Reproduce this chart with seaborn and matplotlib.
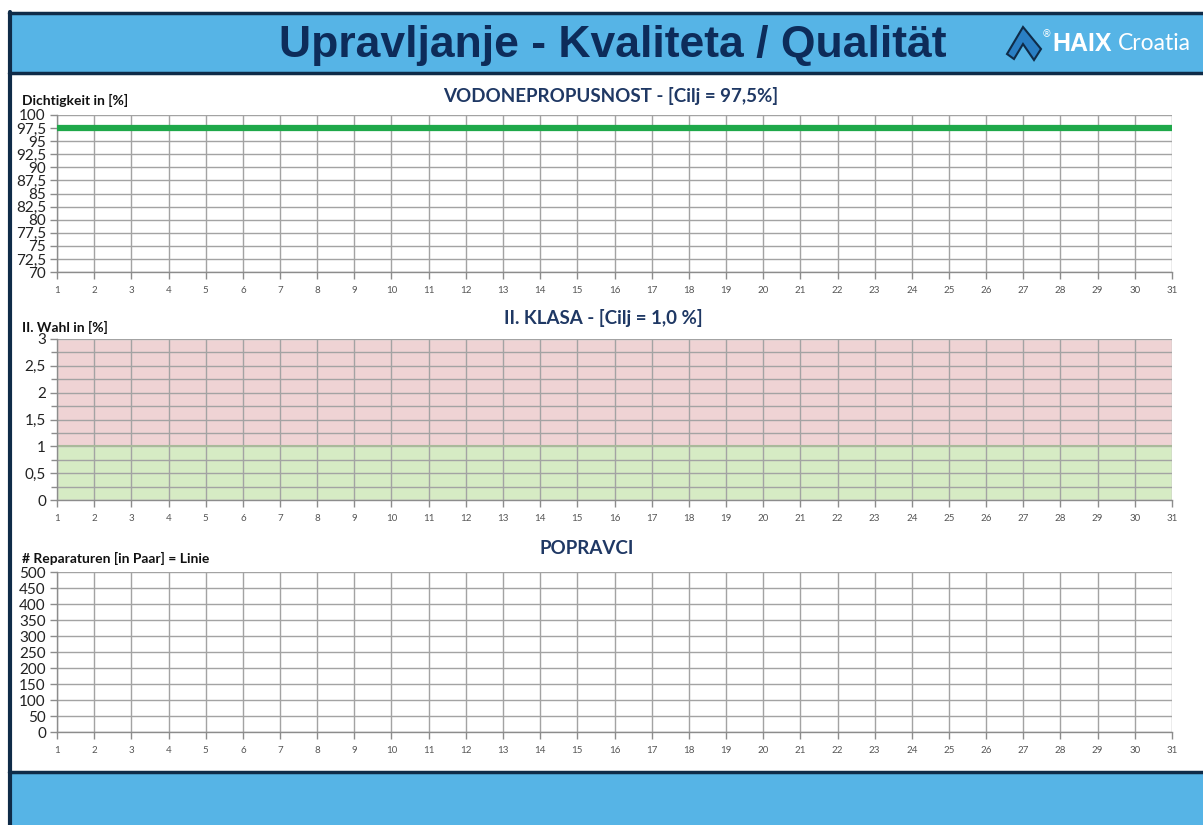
import matplotlib.pyplot as plt
import seaborn as sns
from matplotlib.patches import Rectangle, Polygon

# days of the month on the x axis
days = [1, 2, 3, 4, 5, 6, 7, 8, 9, 10, 11, 12, 13, 14, 15, 16,
        17, 18, 19, 20, 21, 22, 23, 24, 25, 26, 27, 28, 29, 30, 31]

# panel 1: water tightness, target 97.5 %
density_target = 97.5
density_ticks = [70, 72.5, 75, 77.5, 80, 82.5, 85, 87.5, 90, 92.5, 95, 97.5, 100]
density_labels = ['70', '72,5', '75', '77,5', '80', '82,5', '85', '87,5',
                  '90', '92,5', '95', '97,5', '100']

# panel 2: second class, target 1.0 %
class2_target = 1.0
class2_max = 3
class2_ticks = [0, 0.5, 1, 1.5, 2, 2.5, 3]
class2_labels = ['0', '0,5', '1', '1,5', '2', '2,5', '3']
class2_minor = [0.25, 0.75, 1.25, 1.75, 2.25, 2.75]

# panel 3: repairs (no data entered yet)
repair_ticks = [0, 50, 100, 150, 200, 250, 300, 350, 400, 450, 500]
repair_labels = [str(v) for v in repair_ticks]

HEADER_BLUE = '#56b4e6'
FRAME = '#0f2b48'
NAVY = '#1f3864'
GRID = '#a3a3a3'

sns.set_style('white')
plt.rcParams['font.family'] = ['Lato', 'DejaVu Sans']

W, H = 1203, 825
fig = plt.figure(figsize=(W / 100, H / 100), dpi=100)


def fx(px):
    return px / W


def fy(py):
    return 1 - py / H


# header, footer and frame
fig.patches.append(Rectangle((fx(9), fy(73)), 1, fy(13) - fy(73),
                             transform=fig.transFigure, facecolor=HEADER_BLUE,
                             edgecolor='none', zorder=0))
fig.patches.append(Rectangle((fx(9), 0), 1, fy(772),
                             transform=fig.transFigure, facecolor=HEADER_BLUE,
                             edgecolor='none', zorder=0))
for y in (13, 73, 772):
    fig.lines.append(plt.Line2D([fx(9), 1], [fy(y), fy(y)], transform=fig.transFigure,
                                color=FRAME, lw=2.5))
fig.lines.append(plt.Line2D([fx(10), fx(10)], [0, fy(12)], transform=fig.transFigure,
                            color=FRAME, lw=3))

fig.text(fx(613), fy(45), 'Upravljanje - Kvaliteta / Qualität', ha='center', va='center',
         fontsize=32, fontweight='bold', color='#0d2c5a',
         family=['Liberation Sans', 'DejaVu Sans'])

# logo
logo = [(1007, 54), (1023, 27), (1041, 49), (1034, 60), (1023, 44), (1014, 59)]
fig.patches.append(Polygon([(fx(x), fy(y)) for x, y in logo], closed=True,
                           transform=fig.transFigure, facecolor='#2a7fc4',
                           edgecolor='#0f2b48', lw=1.5))
fig.text(fx(1042), fy(34), '®', fontsize=7, color='white', ha='left', va='center',
         family=['DejaVu Sans'])
fig.text(fx(1052), fy(44), 'HAIX', fontsize=18, fontweight='bold', color='white',
         ha='left', va='center', family=['Liberation Sans', 'DejaVu Sans'])
fig.text(fx(1118), fy(44), 'Croatia', fontsize=16.5, color='white',
         ha='left', va='center', family=['Lato', 'DejaVu Sans'])


def setup_panel(top, bottom, ymin, ymax, ticks, labels, minor=None):
    ax = fig.add_axes([fx(57), fy(bottom), fx(1172) - fx(57), fy(top) - fy(bottom)])
    ax.set_xlim(days[0], days[-1])
    ax.set_ylim(ymin, ymax)
    ax.set_xticks(days)
    ax.set_xticklabels([str(d) for d in days])
    ax.set_yticks(ticks)
    ax.set_yticklabels(labels)
    if minor:
        ax.set_yticks(minor, minor=True)
    ax.grid(True, which='both', color=GRID, lw=1)
    ax.set_axisbelow(True)
    for side in ('top', 'right'):
        ax.spines[side].set_visible(False)
    for side in ('left', 'bottom'):
        ax.spines[side].set_color('#8c8c8c')
        ax.spines[side].set_linewidth(1)
    ax.tick_params(axis='x', length=5, width=1, color='#8c8c8c', labelsize=7,
                   labelcolor='#555555', pad=5, bottom=True)
    ax.tick_params(axis='y', which='major', length=5, width=1, color='#8c8c8c',
                   labelsize=11, labelcolor='#222222', pad=3, left=True)
    ax.tick_params(axis='y', which='minor', length=4, width=1, color='#8c8c8c', left=True)
    ax.set_xlabel('')
    ax.set_ylabel('')
    return ax


# panel 1
ax1 = setup_panel(115, 272, density_ticks[0], density_ticks[-1], density_ticks, density_labels)
sns.lineplot(x=[days[0], days[-1]], y=[density_target, density_target], ax=ax1,
             color='#1fa84a', lw=4.5, zorder=5)
ax1.set_ylabel('')
fig.text(fx(611), fy(96), 'VODONEPROPUSNOST - [Cilj = 97,5%]', ha='center', va='center',
         fontsize=13.5, fontweight='bold', color=NAVY)
fig.text(fx(22), fy(100), 'Dichtigkeit in [%]', ha='left', va='center',
         fontsize=10, fontweight='bold', color='#111111')

# panel 2
ax2 = setup_panel(339, 500, 0, class2_max, class2_ticks, class2_labels, class2_minor)
ax2.axhspan(class2_target, class2_max, facecolor='#efd3d4', zorder=0)
ax2.axhspan(0, class2_target, facecolor='#d6ebc4', zorder=0)
ax2.axhline(class2_target, color='#a9b99a', lw=1.5, zorder=1)
fig.text(fx(603), fy(318), 'II. KLASA - [Cilj = 1,0 %]', ha='center', va='center',
         fontsize=13.5, fontweight='bold', color=NAVY)
fig.text(fx(22), fy(327), 'II. Wahl in [%]', ha='left', va='center',
         fontsize=10, fontweight='bold', color='#111111')

# panel 3
ax3 = setup_panel(572, 732, repair_ticks[0], repair_ticks[-1], repair_ticks, repair_labels)
fig.text(fx(587), fy(549), 'POPRAVCI', ha='center', va='center',
         fontsize=13.5, fontweight='bold', color=NAVY)
fig.text(fx(22), fy(558), '# Reparaturen [in Paar] = Linie', ha='left', va='center',
         fontsize=10, fontweight='bold', color='#111111')

fig.savefig('out.png', dpi=100)
